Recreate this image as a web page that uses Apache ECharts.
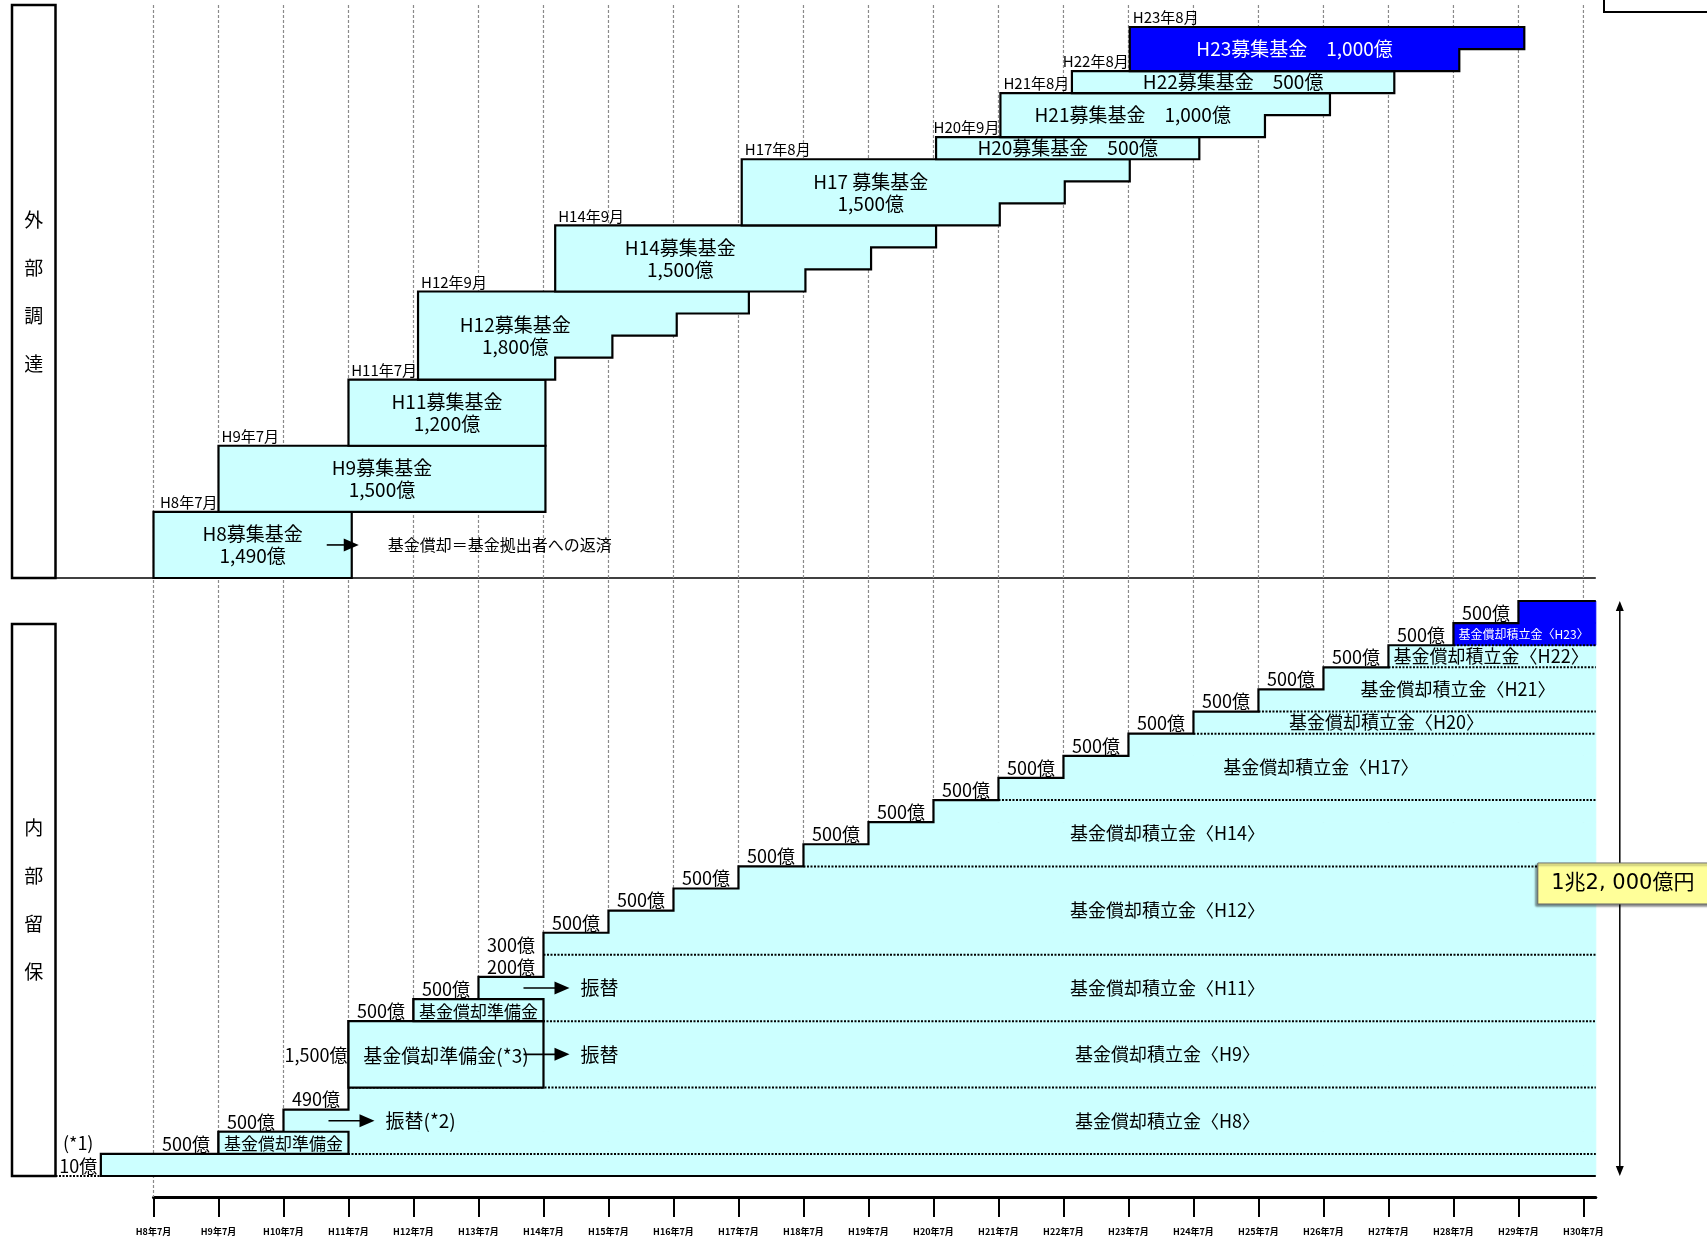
<!DOCTYPE html>
<html lang="ja">
<head>
<meta charset="utf-8">
<title>募集基金と基金償却積立金の推移</title>
<script src="https://cdn.jsdelivr.net/npm/echarts@6.0.0/dist/echarts.min.js"></script>
<style>
html, body { margin: 0; padding: 0; background: #fff; }
#chart { width: 1707px; height: 1238px; }
</style>
</head>
<body>
<div id="chart"></div>
<script>
// ---------- 目盛り（毎年7月） ----------
const tickLabels = ['H8年7月', 'H9年7月', 'H10年7月', 'H11年7月', 'H12年7月', 'H13年7月', 'H14年7月',
  'H15年7月', 'H16年7月', 'H17年7月', 'H18年7月', 'H19年7月', 'H20年7月', 'H21年7月', 'H22年7月',
  'H23年7月', 'H24年7月', 'H25年7月', 'H26年7月', 'H27年7月', 'H28年7月', 'H29年7月', 'H30年7月'];

// ---------- 外部調達：募集基金 ----------
const fundNames = ['H8', 'H9', 'H11', 'H12', 'H14', 'H17', 'H20', 'H21', 'H22', 'H23'];
const fundTitles = ['H8募集基金', 'H9募集基金', 'H11募集基金', 'H12募集基金', 'H14募集基金',
  'H17 募集基金', 'H20募集基金', 'H21募集基金', 'H22募集基金', 'H23募集基金'];
const fundDates = ['H8年7月', 'H9年7月', 'H11年7月', 'H12年9月', 'H14年9月',
  'H17年8月', 'H20年9月', 'H21年8月', 'H22年8月', 'H23年8月'];
const fundAmounts = [1490, 1500, 1200, 1800, 1500, 1500, 500, 1000, 500, 1000];   // 億円
const fundStart = [8.0, 9.0, 11.0, 12.07, 14.18, 17.05, 20.04, 21.03, 22.13, 23.02]; // 年（H8年7月 = 8）
// 各段の償却完了時期（下の段から）
const fundRepayEnd = [[11.05], [14.03], [14.03], [14.18, 15.06, 16.05, 17.16], [18.03, 19.04, 20.04],
  [21.02, 22.02, 23.02], [24.09], [25.1, 26.1], [27.09], [28.09, 29.09]];

// ---------- 内部留保：積み増し ----------
const reserveYear = [7.19, 9, 10, 11, 11, 12, 13, 14, 14, 15, 16, 17, 18, 19, 20, 21, 22, 23, 24, 25, 26, 27, 28, 29];
const reserveAmount = [10, 500, 500, 490, 1500, 500, 500, 200, 300, 500, 500, 500, 500, 500, 500, 500, 500, 500,
  500, 500, 500, 500, 500, 500];                                                      // 億円
const reserveEnd = 30.19;

// 基金償却準備金（振替までの保管分）
const prepTitles = ['基金償却準備金', '基金償却準備金(*3)', '基金償却準備金'];
const prepStep = [1, 4, 5];          // 対応する積み増し
const prepUntil = [11, 14, 14];      // 振替時期
const prepNotes = ['振替(*2)', '振替', '振替'];

// ---------- 描画設定 ----------
const W = 1707, H = 1238;
const GRID_L = 153.5, GRID_R = W - 1595.8;
const FRAME_TOP = 5, AXIS_Y = 1197;
const UP_TOP = 27, UP_BOTTOM = 578;
const LOW_TOP = 601, LOW_BOTTOM = 1176;
const PANEL_L = 12, PANEL_R = 55.5;
const FONT = '"Noto Sans CJK JP", "Noto Sans", sans-serif';
const CYAN = '#CCFFFF', BLUE = '#0000FF';
const TEXT_TIER = { 3: 1 };                  // 見出しを中央寄せする段（既定は最下段）
const BAND_LABEL_X = [23.6, 23.6, 23.6, 23.6, 23.6, 25.96, 26.97, 28.07, 28.58, 29.08];

const tickYears = tickLabels.map(s => +s.match(/^H(\d+)/)[1]);
const fmtOku = v => v.toLocaleString('en-US') + '億';

const TIER_UNIT = 500;                       // 1段 = 500億円まで
const tiersOf = v => Math.ceil(v / TIER_UNIT);
function stack(counts) {
  const base = []; let s = 0;
  counts.forEach(n => { base.push(s); s += n; });
  return [base, s];
}
const fundTiers = fundAmounts.map(tiersOf);
const [fundBase, upperTotal] = stack(fundTiers);
const fundEnds = fundRepayEnd.map((e, i) => e.length === fundTiers[i] ? e : Array(fundTiers[i]).fill(e[0]));

const stepTiers = reserveAmount.map(tiersOf);
const [stepBase, lowerTotal] = stack(stepTiers);
const tierStart = [];
stepTiers.forEach((n, i) => { for (let k = 0; k < n; k++) tierStart.push(reserveYear[i]); });

// 積立金の帯：募集基金と同じ段数を当初分(*1)の上に積む
const bandLow = fundBase.map(b => b + stepTiers[0]);
const latest = fundAmounts.length - 1;
const blueFrom = bandLow[latest];
const reserveTotal = reserveAmount.reduce((a, b) => a + b, 0);

function arrow(x0, x1, y) {
  const head = 15;
  return [
    { type: 'line', shape: { x1: x0, y1: y, x2: x1 - head + 1, y2: y }, style: { stroke: '#000', lineWidth: 1.6 } },
    { type: 'polygon', shape: { points: [[x1, y], [x1 - head, y - 6.5], [x1 - head, y + 6.5]] }, style: { fill: '#000' } }
  ];
}
const txt = (text, x, y, size, extra) => ({
  type: 'text',
  style: Object.assign({ text, x, y, font: size + 'px ' + FONT, fill: '#000', align: 'center', verticalAlign: 'middle' }, extra || {})
});

// ---------- 外部調達の箱 ----------
function renderFund(params, api) {
  const i = api.value(2);
  const n = fundTiers[i], b = fundBase[i], s = fundStart[i], ends = fundEnds[i];
  const P = (x, y) => api.coord([x, y]);
  const pts = [P(s, b)];
  ends.forEach((e, k) => { pts.push(P(e, b + k), P(e, b + k + 1)); });
  pts.push(P(s, b + n));
  const isLatest = i === latest;
  const children = [{ type: 'polygon', shape: { points: pts },
    style: { fill: isLatest ? BLUE : CYAN, stroke: '#000', lineWidth: 2.2 } }];

  const k = TEXT_TIER[i] || 0;
  const cx = (P(s, 0)[0] + P(ends[k], 0)[0]) / 2;
  const cy = P(0, b + n / 2)[1];
  const amount = fmtOku(fundAmounts[i]);
  const label = n >= 3 ? fundTitles[i] + '\n' + amount : fundTitles[i] + '\u3000' + amount;
  children.push(txt(label, cx, cy, 19, { lineHeight: 22, fill: isLatest ? '#fff' : '#000' }));

  // 募集時期
  const sx = P(s, 0)[0], topY = P(0, b + n)[1];
  let lx = sx + 3, align = 'left';
  if (i < latest && P(fundStart[i + 1], 0)[0] - sx < 70) { lx = P(fundStart[i + 1], 0)[0] - 1; align = 'right'; }
  children.push(txt(fundDates[i], lx, topY - 2, 15, { align, verticalAlign: 'bottom' }));

  // 償却の説明
  if (i === 0) {
    const ex = P(ends[0], 0)[0];
    children.push(...arrow(ex - 25, ex + 7, cy));
    children.push(txt('基金償却＝基金拠出者への返済', ex + 36, cy, 16, { align: 'left' }));
  }
  return { type: 'group', children };
}

// ---------- 内部留保 ----------
function renderTier(params, api) {
  const t = api.value(2);
  const a = api.coord([tierStart[t], t + 1]), c = api.coord([reserveEnd, t]);
  const color = t >= blueFrom ? BLUE : CYAN;
  return { type: 'rect', shape: { x: a[0], y: a[1], width: c[0] - a[0], height: c[1] - a[1] },
    style: { fill: color, stroke: color, lineWidth: 1 } };
}
function renderBandLines(params, api) {
  const j = api.value(2);
  const lo = bandLow[j];
  const a = api.coord([tierStart[lo], lo]), c = api.coord([reserveEnd, lo]);
  const children = [{ type: 'line', shape: { x1: a[0], y1: a[1], x2: c[0], y2: c[1] },
    style: { stroke: '#000', lineWidth: 2, lineDash: [2, 1.5] } }];
  // 帯の名称
  const isLatest = j === latest;
  const ty = isLatest ? lo + 0.5 : lo + fundTiers[j] / 2;
  const p = api.coord([BAND_LABEL_X[j], ty]);
  children.push(txt('基金償却積立金〈' + fundNames[j] + '〉', p[0], p[1], isLatest ? 12 : 18,
    { fill: isLatest ? '#fff' : '#000' }));
  return { type: 'group', children };
}
function renderOutline(params, api) {
  const P = (x, y) => api.coord([x, y]);
  const pts = [P(reserveEnd, 0), P(reserveYear[0], 0)];
  reserveYear.forEach((x, i) => {
    pts.push(P(x, stepBase[i]), P(x, stepBase[i] + stepTiers[i]));
    const nx = i + 1 < reserveYear.length ? reserveYear[i + 1] : reserveEnd;
    pts.push(P(nx, stepBase[i] + stepTiers[i]));
  });
  const base = P(reserveYear[0], 0);
  return { type: 'group', children: [
    { type: 'polyline', shape: { points: pts }, style: { stroke: '#000', lineWidth: 2.2, fill: null } },
    { type: 'line', shape: { x1: PANEL_R, y1: base[1], x2: base[0], y2: base[1] },
      style: { stroke: '#000', lineWidth: 2, lineDash: [2, 1.5] } }
  ] };
}
function renderPrep(params, api) {
  const j = api.value(2);
  const st = prepStep[j], lo = stepBase[st], n = stepTiers[st];
  const a = api.coord([reserveYear[st], lo + n]), c = api.coord([prepUntil[j], lo]);
  const children = [
    { type: 'rect', shape: { x: a[0], y: a[1], width: c[0] - a[0], height: c[1] - a[1] },
      style: { fill: CYAN, stroke: '#000', lineWidth: 2.2 } },
    txt(prepTitles[j], (a[0] + c[0]) / 2, (a[1] + c[1]) / 2 + 1, n > 1 ? 19 : 17)
  ];
  // 振替
  const y = api.coord([0, bandLow[j] + fundTiers[j] / 2])[1];
  children.push(...arrow(c[0] - 20, c[0] + 26, y));
  children.push(txt(prepNotes[j], c[0] + 37, y, 19, { align: 'left' }));
  return { type: 'group', children };
}
function renderStepLabel(params, api) {
  const i = api.value(2);
  const x1 = api.coord([reserveYear[i], 0])[0];
  const x0 = i === 0 ? PANEL_R : api.coord([reserveYear[i] - 1, 0])[0];
  const cx = (x0 + x1) / 2;
  const y = api.coord([0, stepBase[i] + stepTiers[i] / 2])[1];
  const children = [txt(fmtOku(reserveAmount[i]), cx, y + 1, 18)];
  if (i === 0) children.push(txt('(*1)', cx, api.coord([0, stepBase[i] + 1.5])[1], 18));
  return { type: 'group', children };
}
function renderTotal(params, api) {
  const top = api.coord([reserveEnd, lowerTotal]), bot = api.coord([reserveEnd, 0]);
  const x = top[0] + 24, mid = (top[1] + bot[1]) / 2 - 5;
  const oku = reserveTotal % 10000;
  const label = Math.floor(reserveTotal / 10000) + '兆' + oku.toLocaleString('en-US').replace(',', ', ') + '億円';
  return { type: 'group', children: [
    { type: 'line', shape: { x1: x, y1: top[1] + 8, x2: x, y2: bot[1] - 8 }, style: { stroke: '#000', lineWidth: 1.5 } },
    { type: 'polygon', shape: { points: [[x, top[1]], [x - 4, top[1] + 10], [x + 4, top[1] + 10]] }, style: { fill: '#000' } },
    { type: 'polygon', shape: { points: [[x, bot[1]], [x - 4, bot[1] - 10], [x + 4, bot[1] - 10]] }, style: { fill: '#000' } },
    { type: 'rect', shape: { x: x - 82, y: mid - 20.5, width: 174, height: 41 },
      style: { fill: '#FFFF99', stroke: '#666', lineWidth: 1, shadowBlur: 2, shadowOffsetX: -2, shadowOffsetY: 2,
        shadowColor: 'rgba(0,0,0,0.45)' } },
    { type: 'text', style: { text: label, x: x + 3, y: mid, font: '21px "DejaVu Sans", "Noto Sans CJK JP", sans-serif',
      fill: '#000', align: 'center', verticalAlign: 'middle' } }
  ] };
}

const idx = arr => arr.map((_, i) => [0, 0, i]);
const custom = (grid, z, data, renderItem) => ({
  type: 'custom', coordinateSystem: 'cartesian2d', xAxisIndex: grid, yAxisIndex: grid, z, silent: true,
  clip: false, data, renderItem
});

const chart = echarts.init(document.getElementById('chart'));
chart.setOption({
  animation: false,
  backgroundColor: '#fff',
  grid: [
    { left: GRID_L, right: GRID_R, top: FRAME_TOP, bottom: H - AXIS_Y },
    { left: GRID_L, right: GRID_R, top: UP_TOP, bottom: H - UP_BOTTOM },
    { left: GRID_L, right: GRID_R, top: LOW_TOP, bottom: H - LOW_BOTTOM }
  ],
  xAxis: [0, 1, 2].map(k => ({
    type: 'value', gridIndex: k, min: tickYears[0], max: reserveEnd, show: k === 0,
    axisLine: { show: true, onZero: false, lineStyle: { color: '#000', width: 3 } },
    axisTick: { show: true, inside: false, length: 20, customValues: tickYears, lineStyle: { color: '#000', width: 2 } },
    axisLabel: { show: true, customValues: tickYears, margin: 30, color: '#000', fontSize: 9, fontWeight: 'bold',
      fontFamily: FONT, formatter: v => tickLabels[tickYears.indexOf(Math.round(v))] || '' },
    splitLine: { show: false }
  })),
  yAxis: [
    { type: 'value', gridIndex: 0, min: 0, max: 1, show: false },
    { type: 'value', gridIndex: 1, min: 0, max: upperTotal, show: false },
    { type: 'value', gridIndex: 2, min: 0, max: lowerTotal, show: false }
  ],
  graphic: [
    { type: 'rect', shape: { x: PANEL_L, y: FRAME_TOP, width: PANEL_R - PANEL_L, height: UP_BOTTOM - FRAME_TOP },
      style: { fill: '#fff', stroke: '#000', lineWidth: 2.5 } },
    { type: 'text', style: { text: '外\n部\n調\n達', x: (PANEL_L + PANEL_R) / 2, y: (FRAME_TOP + UP_BOTTOM) / 2,
      font: '19px ' + FONT, lineHeight: 48, align: 'center', verticalAlign: 'middle', fill: '#000' } },
    { type: 'rect', shape: { x: PANEL_L, y: 624, width: PANEL_R - PANEL_L, height: LOW_BOTTOM - 624 },
      style: { fill: '#fff', stroke: '#000', lineWidth: 2.5 } },
    { type: 'text', style: { text: '内\n部\n留\n保', x: (PANEL_L + PANEL_R) / 2, y: (624 + LOW_BOTTOM) / 2,
      font: '19px ' + FONT, lineHeight: 48, align: 'center', verticalAlign: 'middle', fill: '#000' } },
    { type: 'line', shape: { x1: PANEL_L, y1: UP_BOTTOM, x2: W - GRID_R, y2: UP_BOTTOM },
      style: { stroke: '#000', lineWidth: 1.5 } },
    { type: 'rect', shape: { x: 1604, y: -10, width: 110, height: 22 }, style: { fill: '#fff', stroke: '#000', lineWidth: 2 } }
  ],
  series: [
    // 年ごとの補助線
    custom(0, 1, tickYears.map((y, i) => [y, 0, i]), (params, api) => {
      const x = api.coord([api.value(0), 0])[0];
      return { type: 'line', shape: { x1: x, y1: FRAME_TOP, x2: x, y2: api.value(2) === 0 ? AXIS_Y : LOW_BOTTOM },
        style: { stroke: '#8a8a8a', lineWidth: 1.2, lineDash: [3, 2] } };
    }),
    custom(1, 3, idx(fundAmounts), renderFund),
    custom(2, 2, idx(tierStart), renderTier),
    custom(2, 3, idx(fundAmounts), renderBandLines),
    custom(2, 4, [[0, 0, 0]], renderOutline),
    custom(2, 5, idx(prepTitles), renderPrep),
    custom(2, 6, idx(reserveAmount), renderStepLabel),
    custom(2, 7, [[0, 0, 0]], renderTotal)
  ]
});
</script>
</body>
</html>
